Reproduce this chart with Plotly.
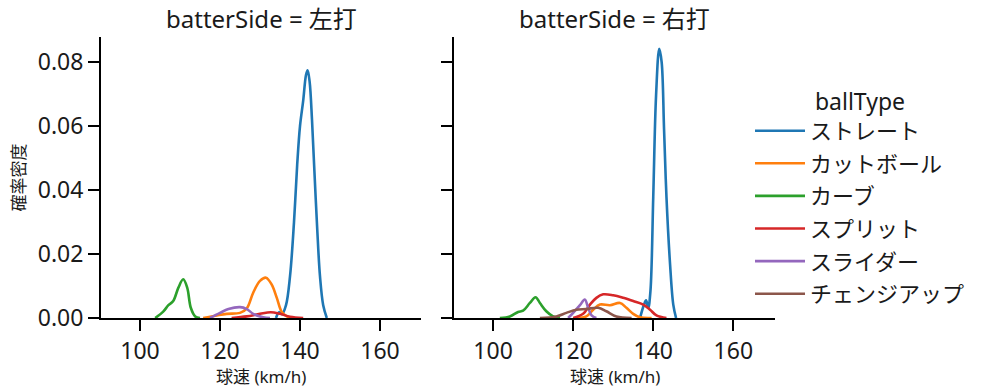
import plotly.graph_objects as go

# ---------------- data ----------------
ball_types = ["ストレート", "カットボール", "カーブ", "スプリット", "スライダー", "チェンジアップ"]
colors = ["#1f77b4", "#ff7f0e", "#2ca02c", "#d62728", "#9467bd", "#8c564b"]
panel_titles = ["batterSide = 左打", "batterSide = 右打"]

# Left panel (左打) : speed (km/h) and density
left_straight_x = [134.0, 134.8, 135.5, 136.5, 137.5, 138.5, 139.3, 140.0, 140.8, 141.5, 141.9, 142.4, 143.0, 143.6, 144.3, 145.0, 145.8, 146.7]
left_straight_y = [0.0, 0.0018, 0.0012, 0.004, 0.013, 0.030, 0.048, 0.060, 0.068, 0.076, 0.0775, 0.074, 0.062, 0.046, 0.028, 0.013, 0.004, 0.0]
left_cutter_x = [115.8, 119.2, 121.7, 125.0, 126.7, 128.3, 130.0, 131.5, 132.9, 134.2, 135.4, 136.7, 138.3]
left_cutter_y = [0.0, 0.0008, 0.0013, 0.0016, 0.003, 0.0079, 0.0116, 0.0126, 0.0105, 0.0063, 0.002, 0.0005, 0.0]
left_curve_x = [103.8, 105.8, 107.1, 108.3, 109.6, 110.8, 111.8, 112.7, 113.8, 115.0]
left_curve_y = [0.0, 0.002, 0.004, 0.0053, 0.0095, 0.0121, 0.0095, 0.0032, 0.0005, 0.0]
left_split_x = [122.9, 126.7, 130.0, 132.7, 135.0, 137.5, 140.8]
left_split_y = [0.0, 0.0005, 0.0013, 0.0018, 0.0013, 0.0004, 0.0]
left_slider_x = [117.5, 120.0, 122.1, 125.0, 126.7, 128.3, 130.8, 132.5]
left_slider_y = [0.0, 0.0016, 0.0028, 0.0034, 0.0028, 0.0013, 0.0002, 0.0]

# Right panel (右打)
right_straight_x = [136.7, 137.7, 138.2, 138.75, 139.3, 140.0, 140.7, 141.5, 142.1, 142.7, 143.3, 144.2, 145.0, 145.7]
right_straight_y = [0.0, 0.0042, 0.0055, 0.0032, 0.0084, 0.0379, 0.0695, 0.0842, 0.080, 0.059, 0.0379, 0.0168, 0.0042, 0.0]
right_cutter_x = [120.8, 123.3, 125.0, 126.7, 129.2, 131.7, 133.3, 135.0, 136.7, 139.6]
right_cutter_y = [0.0, 0.0005, 0.0026, 0.0042, 0.0040, 0.0047, 0.0032, 0.0013, 0.0002, 0.0]
right_curve_x = [101.7, 104.2, 106.25, 107.5, 109.2, 110.6, 111.7, 113.3, 115.0, 116.7]
right_curve_y = [0.0, 0.0005, 0.0019, 0.0023, 0.0047, 0.0065, 0.0047, 0.0021, 0.0005, 0.0]
right_split_x = [120.0, 122.5, 124.2, 125.8, 127.5, 130.0, 132.5, 135.0, 137.5, 139.2, 140.8, 143.3]
right_split_y = [0.0, 0.0013, 0.0042, 0.0063, 0.0074, 0.0071, 0.0063, 0.0053, 0.0042, 0.0026, 0.0008, 0.0]
right_slider_x = [118.75, 120.0, 121.7, 122.9, 123.75, 124.6, 125.8]
right_slider_y = [0.0, 0.0016, 0.0040, 0.0058, 0.0032, 0.0008, 0.0]
right_change_x = [111.7, 115.8, 118.3, 120.8, 123.3, 126.25, 128.3, 130.8, 134.6]
right_change_y = [0.0, 0.0005, 0.0016, 0.0026, 0.0028, 0.0032, 0.0021, 0.0005, 0.0]

x_ticks = [100, 120, 140, 160]
y_ticks = [0.00, 0.02, 0.04, 0.06, 0.08]
y_tick_labels = ["0.00", "0.02", "0.04", "0.06", "0.08"]

left_series = [
    (left_straight_x, left_straight_y),
    (left_cutter_x, left_cutter_y),
    (left_curve_x, left_curve_y),
    (left_split_x, left_split_y),
    (left_slider_x, left_slider_y),
    None,
]
right_series = [
    (right_straight_x, right_straight_y),
    (right_cutter_x, right_cutter_y),
    (right_curve_x, right_curve_y),
    (right_split_x, right_split_y),
    (right_slider_x, right_slider_y),
    (right_change_x, right_change_y),
]

# ---------------- figure ----------------
FONT = "Noto Sans, Noto Sans CJK JP, DejaVu Sans, sans-serif"
TXT = "#1a1a1a"
fig = go.Figure()

for i, name in enumerate(ball_types):
    if left_series[i] is not None:
        xs, ys = left_series[i]
        fig.add_trace(go.Scatter(x=xs, y=ys, mode="lines", name=name, legendgroup=name,
                                 showlegend=False, xaxis="x", yaxis="y",
                                 line=dict(color=colors[i], width=2.6, shape="spline", smoothing=1.0)))
    xs, ys = right_series[i]
    fig.add_trace(go.Scatter(x=xs, y=ys, mode="lines", name=name, legendgroup=name,
                             showlegend=True, xaxis="x2", yaxis="y2",
                             line=dict(color=colors[i], width=2.6, shape="spline", smoothing=1.0)))

W, H = 999, 391
ml, mr, mt, mb = 101, 224, 37, 73
pw = W - ml - mr
ph = H - mt - mb
d1 = [0, (421 - ml) / pw]
d2 = [(454 - ml) / pw, 1]

axis_common = dict(showline=True, linecolor="black", linewidth=2, ticks="outside",
                   ticklen=11, tickwidth=2, tickcolor="black", showgrid=False, zeroline=False,
                   tickfont=dict(family=FONT, size=23, color=TXT), automargin=False)
fig.update_layout(
    width=W, height=H,
    margin=dict(l=ml, r=mr, t=mt, b=mb, autoexpand=False),
    plot_bgcolor="white", paper_bgcolor="white",
    font=dict(family=FONT, color=TXT),
    xaxis=dict(domain=d1, range=[90.25, 170.25], tickvals=x_ticks, anchor="y", **axis_common),
    xaxis2=dict(domain=d2, range=[90.25, 170.4], tickvals=x_ticks, anchor="y2", **axis_common),
    yaxis=dict(range=[0, 0.0879], tickvals=y_ticks, ticktext=y_tick_labels, anchor="x", **axis_common),
    yaxis2=dict(range=[0, 0.0879], tickvals=y_ticks, showticklabels=False, anchor="x2", **axis_common),
    legend=dict(title=dict(text="ballType", side="top center",
                           font=dict(family=FONT, size=23, color=TXT)),
                font=dict(family=FONT, size=22, color=TXT),
                x=(750 - ml) / pw, xanchor="left", y=(318 - 80) / ph,
                yanchor="top", tracegroupgap=1, bgcolor="rgba(0,0,0,0)", itemwidth=50),
    showlegend=True,
)

annotations = []
for d, t in zip([d1, d2], panel_titles):
    annotations.append(dict(text=t, x=(d[0] + d[1]) / 2, y=1, xref="paper", yref="paper",
                            xanchor="center", yanchor="bottom", yshift=0, showarrow=False,
                            font=dict(family=FONT, size=24, color=TXT)))
    annotations.append(dict(text="球速 (km/h)", x=(d[0] + d[1]) / 2, y=0, xref="paper", yref="paper",
                            xanchor="center", yanchor="top", yshift=-45, showarrow=False,
                            font=dict(family=FONT, size=17, color=TXT)))
annotations.append(dict(text="確率密度", x=0, y=0.5, xref="paper", yref="paper", textangle=-90,
                        xanchor="center", yanchor="middle", xshift=-83, showarrow=False,
                        font=dict(family=FONT, size=17, color=TXT)))
fig.update_layout(annotations=annotations)

fig.write_html("out.html", config={"displayModeBar": False},
               post_script="document.body.style.margin='0';document.body.style.overflow='hidden';")
